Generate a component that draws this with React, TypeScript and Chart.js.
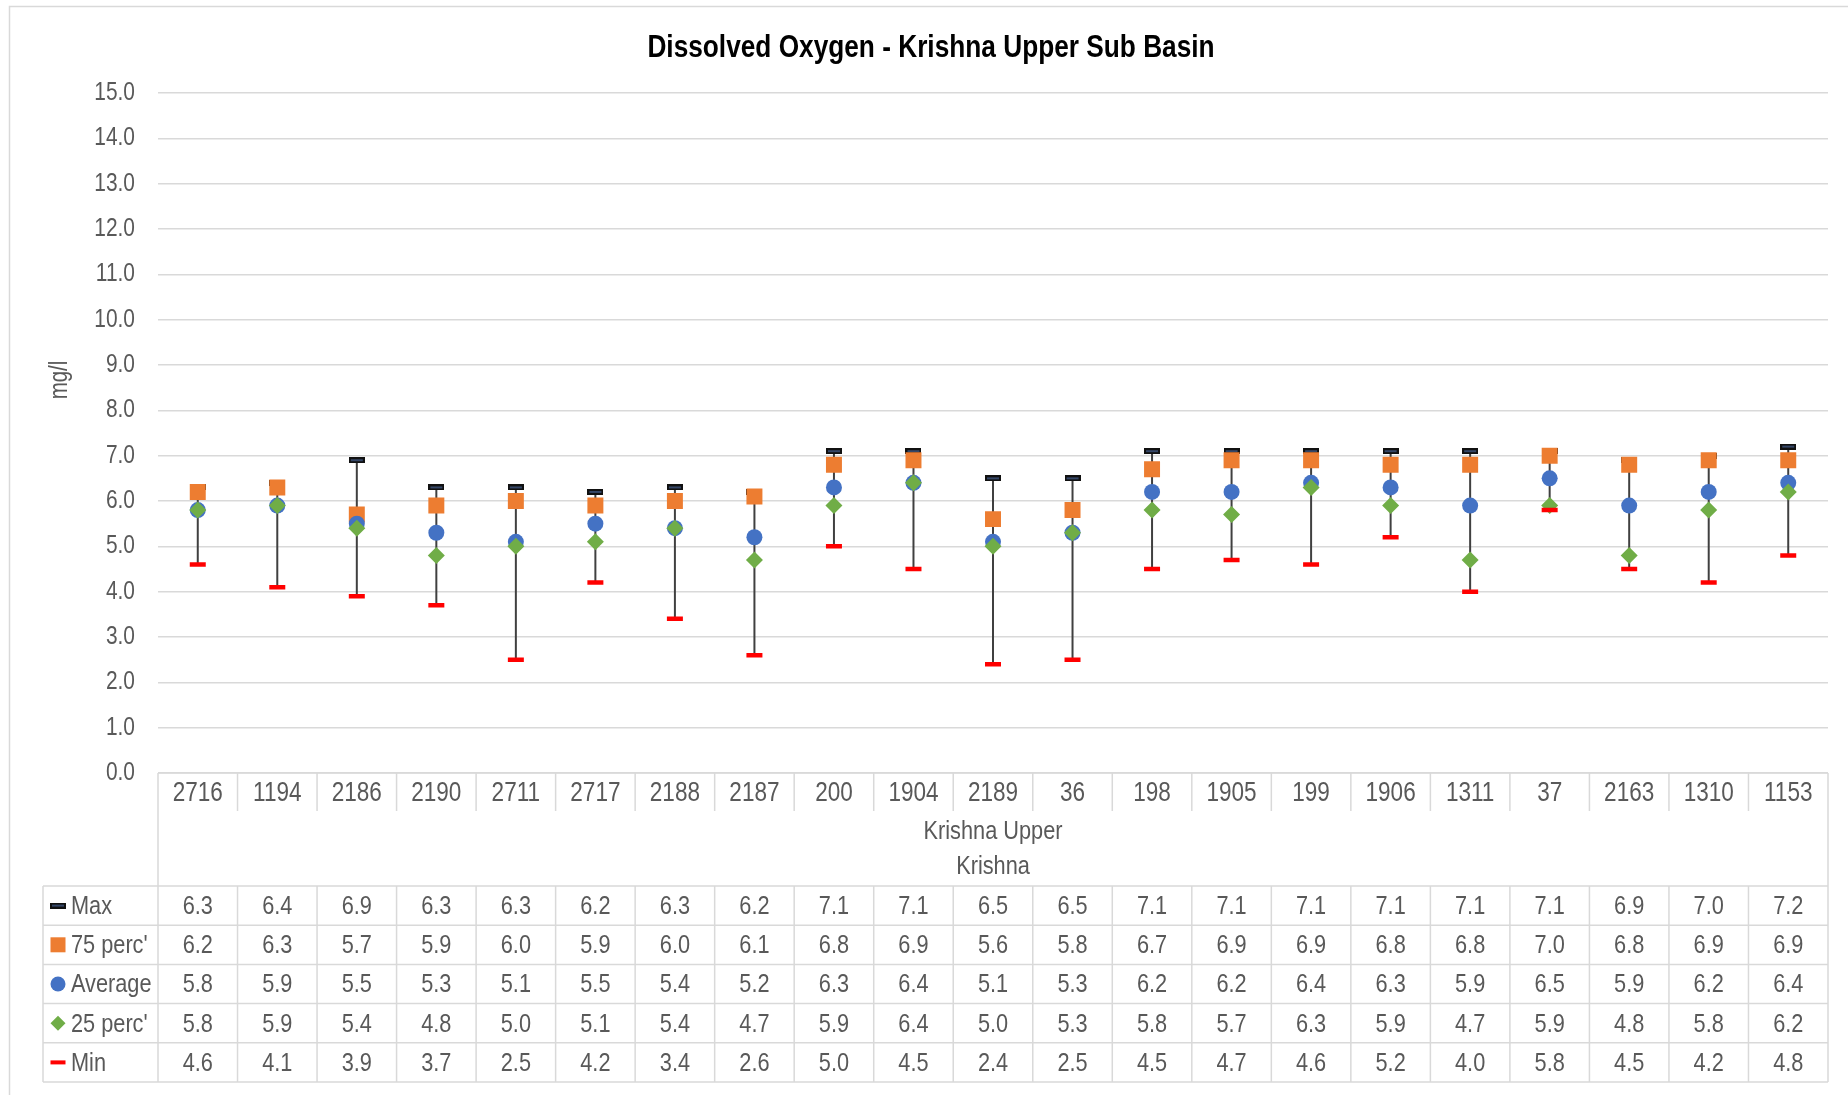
import React, { useEffect, useRef } from "react";
import { Chart, registerables } from "chart.js";

Chart.register(...registerables);

// ---------------- data ----------------
const chartTitle = "Dissolved Oxygen - Krishna Upper Sub Basin";
const yAxisTitle = "mg/l";
const categories = [
  "2716", "1194", "2186", "2190", "2711", "2717", "2188", "2187", "200", "1904", "2189",
  "36", "198", "1905", "199", "1906", "1311", "37", "2163", "1310", "1153",
];
const groupLevel1 = "Krishna Upper";
const groupLevel2 = "Krishna";
const maxValues = [6.3, 6.4, 6.9, 6.3, 6.3, 6.2, 6.3, 6.2, 7.1, 7.1, 6.5, 6.5, 7.1, 7.1, 7.1, 7.1, 7.1, 7.1, 6.9, 7.0, 7.2];
const p75Values = [6.2, 6.3, 5.7, 5.9, 6.0, 5.9, 6.0, 6.1, 6.8, 6.9, 5.6, 5.8, 6.7, 6.9, 6.9, 6.8, 6.8, 7.0, 6.8, 6.9, 6.9];
const avgValues = [5.8, 5.9, 5.5, 5.3, 5.1, 5.5, 5.4, 5.2, 6.3, 6.4, 5.1, 5.3, 6.2, 6.2, 6.4, 6.3, 5.9, 6.5, 5.9, 6.2, 6.4];
const p25Values = [5.8, 5.9, 5.4, 4.8, 5.0, 5.1, 5.4, 4.7, 5.9, 6.4, 5.0, 5.3, 5.8, 5.7, 6.3, 5.9, 4.7, 5.9, 4.8, 5.8, 6.2];
const minValues = [4.6, 4.1, 3.9, 3.7, 2.5, 4.2, 3.4, 2.6, 5.0, 4.5, 2.4, 2.5, 4.5, 4.7, 4.6, 5.2, 4.0, 5.8, 4.5, 4.2, 4.8];
const seriesLabels = ["Max", "75 perc'", "Average", "25 perc'", "Min"];
const yMin = 0;
const yMax = 15;
const yStep = 1;

// ---------------- styling ----------------
const W = 1848;
const H = 1095;
const TEXT = "#595959";
const GRID = "#d9d9d9";
const ORANGE = "#ED7D31";
const BLUE = "#4472C4";
const GREEN = "#70AD47";
const RED = "#FF0000";

let NARROW = false;
function detectNarrow() {
  try {
    const c = document.createElement("canvas").getContext("2d");
    if (!c) return false;
    c.font = '40px "Liberation Sans Narrow", monospace';
    const w1 = c.measureText("abcdefghijklmnopqrstuvwxyz").width;
    c.font = "40px monospace";
    const w2 = c.measureText("abcdefghijklmnopqrstuvwxyz").width;
    return Math.abs(w1 - w2) > 1;
  } catch (e) {
    return false;
  }
}

function fontStr(size: number, bold: boolean) {
  const fam = NARROW ? '"Liberation Sans Narrow", "Arial Narrow", sans-serif' : '"Liberation Sans", Arial, sans-serif';
  return `${bold ? "bold " : ""}${size}px ${fam}`;
}

function drawText(
  ctx: CanvasRenderingContext2D,
  text: string,
  x: number,
  y: number,
  align: CanvasTextAlign,
  size: number,
  bold: boolean,
  color: string,
  rotate = 0
) {
  ctx.save();
  ctx.font = fontStr(size, bold);
  ctx.fillStyle = color;
  ctx.textBaseline = "middle";
  ctx.textAlign = align;
  ctx.translate(x, y);
  if (rotate) ctx.rotate(rotate);
  if (!NARROW) ctx.scale(0.82, 1);
  ctx.fillText(text, 0, 0);
  ctx.restore();
}

function makeMaxMarker() {
  const c = document.createElement("canvas");
  c.width = 16;
  c.height = 6;
  const g = c.getContext("2d")!;
  g.fillStyle = "#111111";
  g.fillRect(0, 0, 16, 6);
  g.fillStyle = "#5b7fbf";
  g.fillRect(2, 2.5, 12, 1);
  return c;
}

function drawLegendMarker(ctx: CanvasRenderingContext2D, idx: number, x: number, y: number, maxMarker: HTMLCanvasElement) {
  ctx.save();
  if (idx === 0) {
    ctx.drawImage(maxMarker, x - 8, y - 3);
  } else if (idx === 1) {
    ctx.fillStyle = ORANGE;
    ctx.fillRect(x - 7.5, y - 7.5, 15, 15);
  } else if (idx === 2) {
    ctx.fillStyle = BLUE;
    ctx.beginPath();
    ctx.arc(x, y, 7.5, 0, Math.PI * 2);
    ctx.fill();
  } else if (idx === 3) {
    ctx.fillStyle = GREEN;
    ctx.beginPath();
    ctx.moveTo(x - 7.5, y);
    ctx.lineTo(x, y - 7.5);
    ctx.lineTo(x + 7.5, y);
    ctx.lineTo(x, y + 7.5);
    ctx.closePath();
    ctx.fill();
  } else {
    ctx.fillStyle = RED;
    ctx.fillRect(x - 7.5, y - 2, 15, 4);
  }
  ctx.restore();
}

export default function App() {
  const canvasRef = useRef<HTMLCanvasElement | null>(null);

  useEffect(() => {
    if (!canvasRef.current) return;
    NARROW = detectNarrow();
    const maxMarker = makeMaxMarker();
    const seriesValues = [maxValues, p75Values, avgValues, p25Values, minValues];

    const decorPlugin = {
      id: "decor",
      beforeDraw(chart: any) {
        const ctx = chart.ctx as CanvasRenderingContext2D;
        ctx.save();
        ctx.fillStyle = "#ffffff";
        ctx.fillRect(0, 0, chart.width, chart.height);
        ctx.strokeStyle = GRID;
        ctx.lineWidth = 1.5;
        ctx.beginPath();
        ctx.moveTo(9.5, H);
        ctx.lineTo(9.5, 6.5);
        ctx.lineTo(W, 6.5);
        ctx.stroke();
        ctx.restore();
      },
      beforeDatasetsDraw(chart: any) {
        const ctx = chart.ctx as CanvasRenderingContext2D;
        const xs = chart.scales.x;
        const ys = chart.scales.y;
        ctx.save();
        ctx.strokeStyle = "#404040";
        ctx.lineWidth = 2;
        for (let i = 0; i < categories.length; i++) {
          const x = xs.getPixelForValue(i);
          ctx.beginPath();
          ctx.moveTo(x, ys.getPixelForValue(maxValues[i]));
          ctx.lineTo(x, ys.getPixelForValue(minValues[i]));
          ctx.stroke();
        }
        ctx.restore();
      },
      afterDraw(chart: any) {
        const ctx = chart.ctx as CanvasRenderingContext2D;
        const xs = chart.scales.x;
        const ys = chart.scales.y;
        const area = chart.chartArea;
        // title
        drawText(ctx, chartTitle, 931, 48, "center", 32, true, "#000000");
        // y ticks
        for (const t of ys.ticks) {
          drawText(ctx, Number(t.value).toFixed(1), 135, ys.getPixelForValue(t.value), "right", 25.5, false, TEXT);
        }
        // y title
        drawText(ctx, yAxisTitle, 60, 380, "center", 25, false, TEXT, -Math.PI / 2);

        // data table
        const left = area.left;
        const right = area.right;
        const n = categories.length;
        const colW = (right - left) / n;
        const top = area.bottom;
        const catBottom = top + 38;
        const seriesTop = top + 113;
        const rowH = 39.2;
        const tableBottom = seriesTop + rowH * 5;
        const legendLeft = 43;

        ctx.save();
        ctx.strokeStyle = GRID;
        ctx.lineWidth = 1.5;
        ctx.beginPath();
        ctx.moveTo(left, top);
        ctx.lineTo(right, top);
        for (let k = 1; k < n; k++) {
          const x = left + k * colW;
          ctx.moveTo(x, top);
          ctx.lineTo(x, catBottom);
          ctx.moveTo(x, seriesTop);
          ctx.lineTo(x, tableBottom);
        }
        ctx.moveTo(left, top);
        ctx.lineTo(left, tableBottom);
        ctx.moveTo(right, top);
        ctx.lineTo(right, tableBottom);
        ctx.moveTo(legendLeft, seriesTop);
        ctx.lineTo(legendLeft, tableBottom);
        for (let r = 0; r <= 5; r++) {
          const y = seriesTop + r * rowH;
          ctx.moveTo(legendLeft, y);
          ctx.lineTo(right, y);
        }
        ctx.stroke();
        ctx.restore();

        for (let i = 0; i < n; i++) {
          drawText(ctx, categories[i], xs.getPixelForValue(i), (top + catBottom) / 2 + 1, "center", 27.5, false, TEXT);
        }
        const mid = (left + right) / 2;
        drawText(ctx, groupLevel1, mid, 832, "center", 26.5, false, TEXT);
        drawText(ctx, groupLevel2, mid, 867, "center", 26.5, false, TEXT);

        for (let r = 0; r < 5; r++) {
          const cy = seriesTop + r * rowH + rowH / 2;
          drawLegendMarker(ctx, r, 58, cy, maxMarker);
          drawText(ctx, seriesLabels[r], 71, cy + 1, "left", 26.5, false, TEXT);
          const vals = seriesValues[r];
          for (let i = 0; i < n; i++) {
            drawText(ctx, vals[i].toFixed(1), xs.getPixelForValue(i), cy + 1, "center", 26.5, false, TEXT);
          }
        }
      },
    };

    const chart = new Chart(canvasRef.current, {
      type: "line",
      data: {
        labels: categories,
        datasets: [
          {
            label: seriesLabels[0],
            data: maxValues,
            showLine: false,
            pointStyle: maxMarker as any,
            pointRadius: 8,
            order: 5,
          },
          {
            label: seriesLabels[1],
            data: p75Values,
            showLine: false,
            pointStyle: "rect",
            pointRadius: 11.3,
            pointBackgroundColor: ORANGE,
            pointBorderColor: ORANGE,
            pointBorderWidth: 0,
            order: 4,
          },
          {
            label: seriesLabels[2],
            data: avgValues,
            showLine: false,
            pointStyle: "circle",
            pointRadius: 8,
            pointBackgroundColor: BLUE,
            pointBorderColor: BLUE,
            pointBorderWidth: 0,
            order: 3,
          },
          {
            label: seriesLabels[3],
            data: p25Values,
            showLine: false,
            pointStyle: "rectRot",
            pointRadius: 8.5,
            pointBackgroundColor: GREEN,
            pointBorderColor: GREEN,
            pointBorderWidth: 0,
            order: 2,
          },
          {
            label: seriesLabels[4],
            data: minValues,
            showLine: false,
            pointStyle: "line",
            pointRadius: 8,
            pointBorderColor: RED,
            pointBorderWidth: 4.5,
            order: 1,
          },
        ],
      },
      options: {
        responsive: false,
        animation: false,
        devicePixelRatio: 1,
        layout: { padding: { left: 0, right: 20, top: 93, bottom: 322 } },
        plugins: {
          legend: { display: false },
          title: { display: false },
          tooltip: { enabled: false },
        },
        events: [],
        scales: {
          x: {
            type: "category",
            display: false,
            offset: true,
          },
          y: {
            min: yMin,
            max: yMax,
            ticks: { stepSize: yStep, display: false },
            grid: { color: GRID, lineWidth: 1.5, drawTicks: false },
            border: { display: false },
            afterFit: (scale: any) => {
              scale.width = 158;
            },
          },
        },
      },
      plugins: [decorPlugin],
    });

    return () => {
      chart.destroy();
    };
  }, []);

  return (
    <div style={{ position: "fixed", left: 0, top: 0, width: W, height: H, overflow: "hidden", background: "#fff" }}>
      <canvas ref={canvasRef} width={W} height={H} style={{ display: "block", width: W, height: H }} />
    </div>
  );
}
